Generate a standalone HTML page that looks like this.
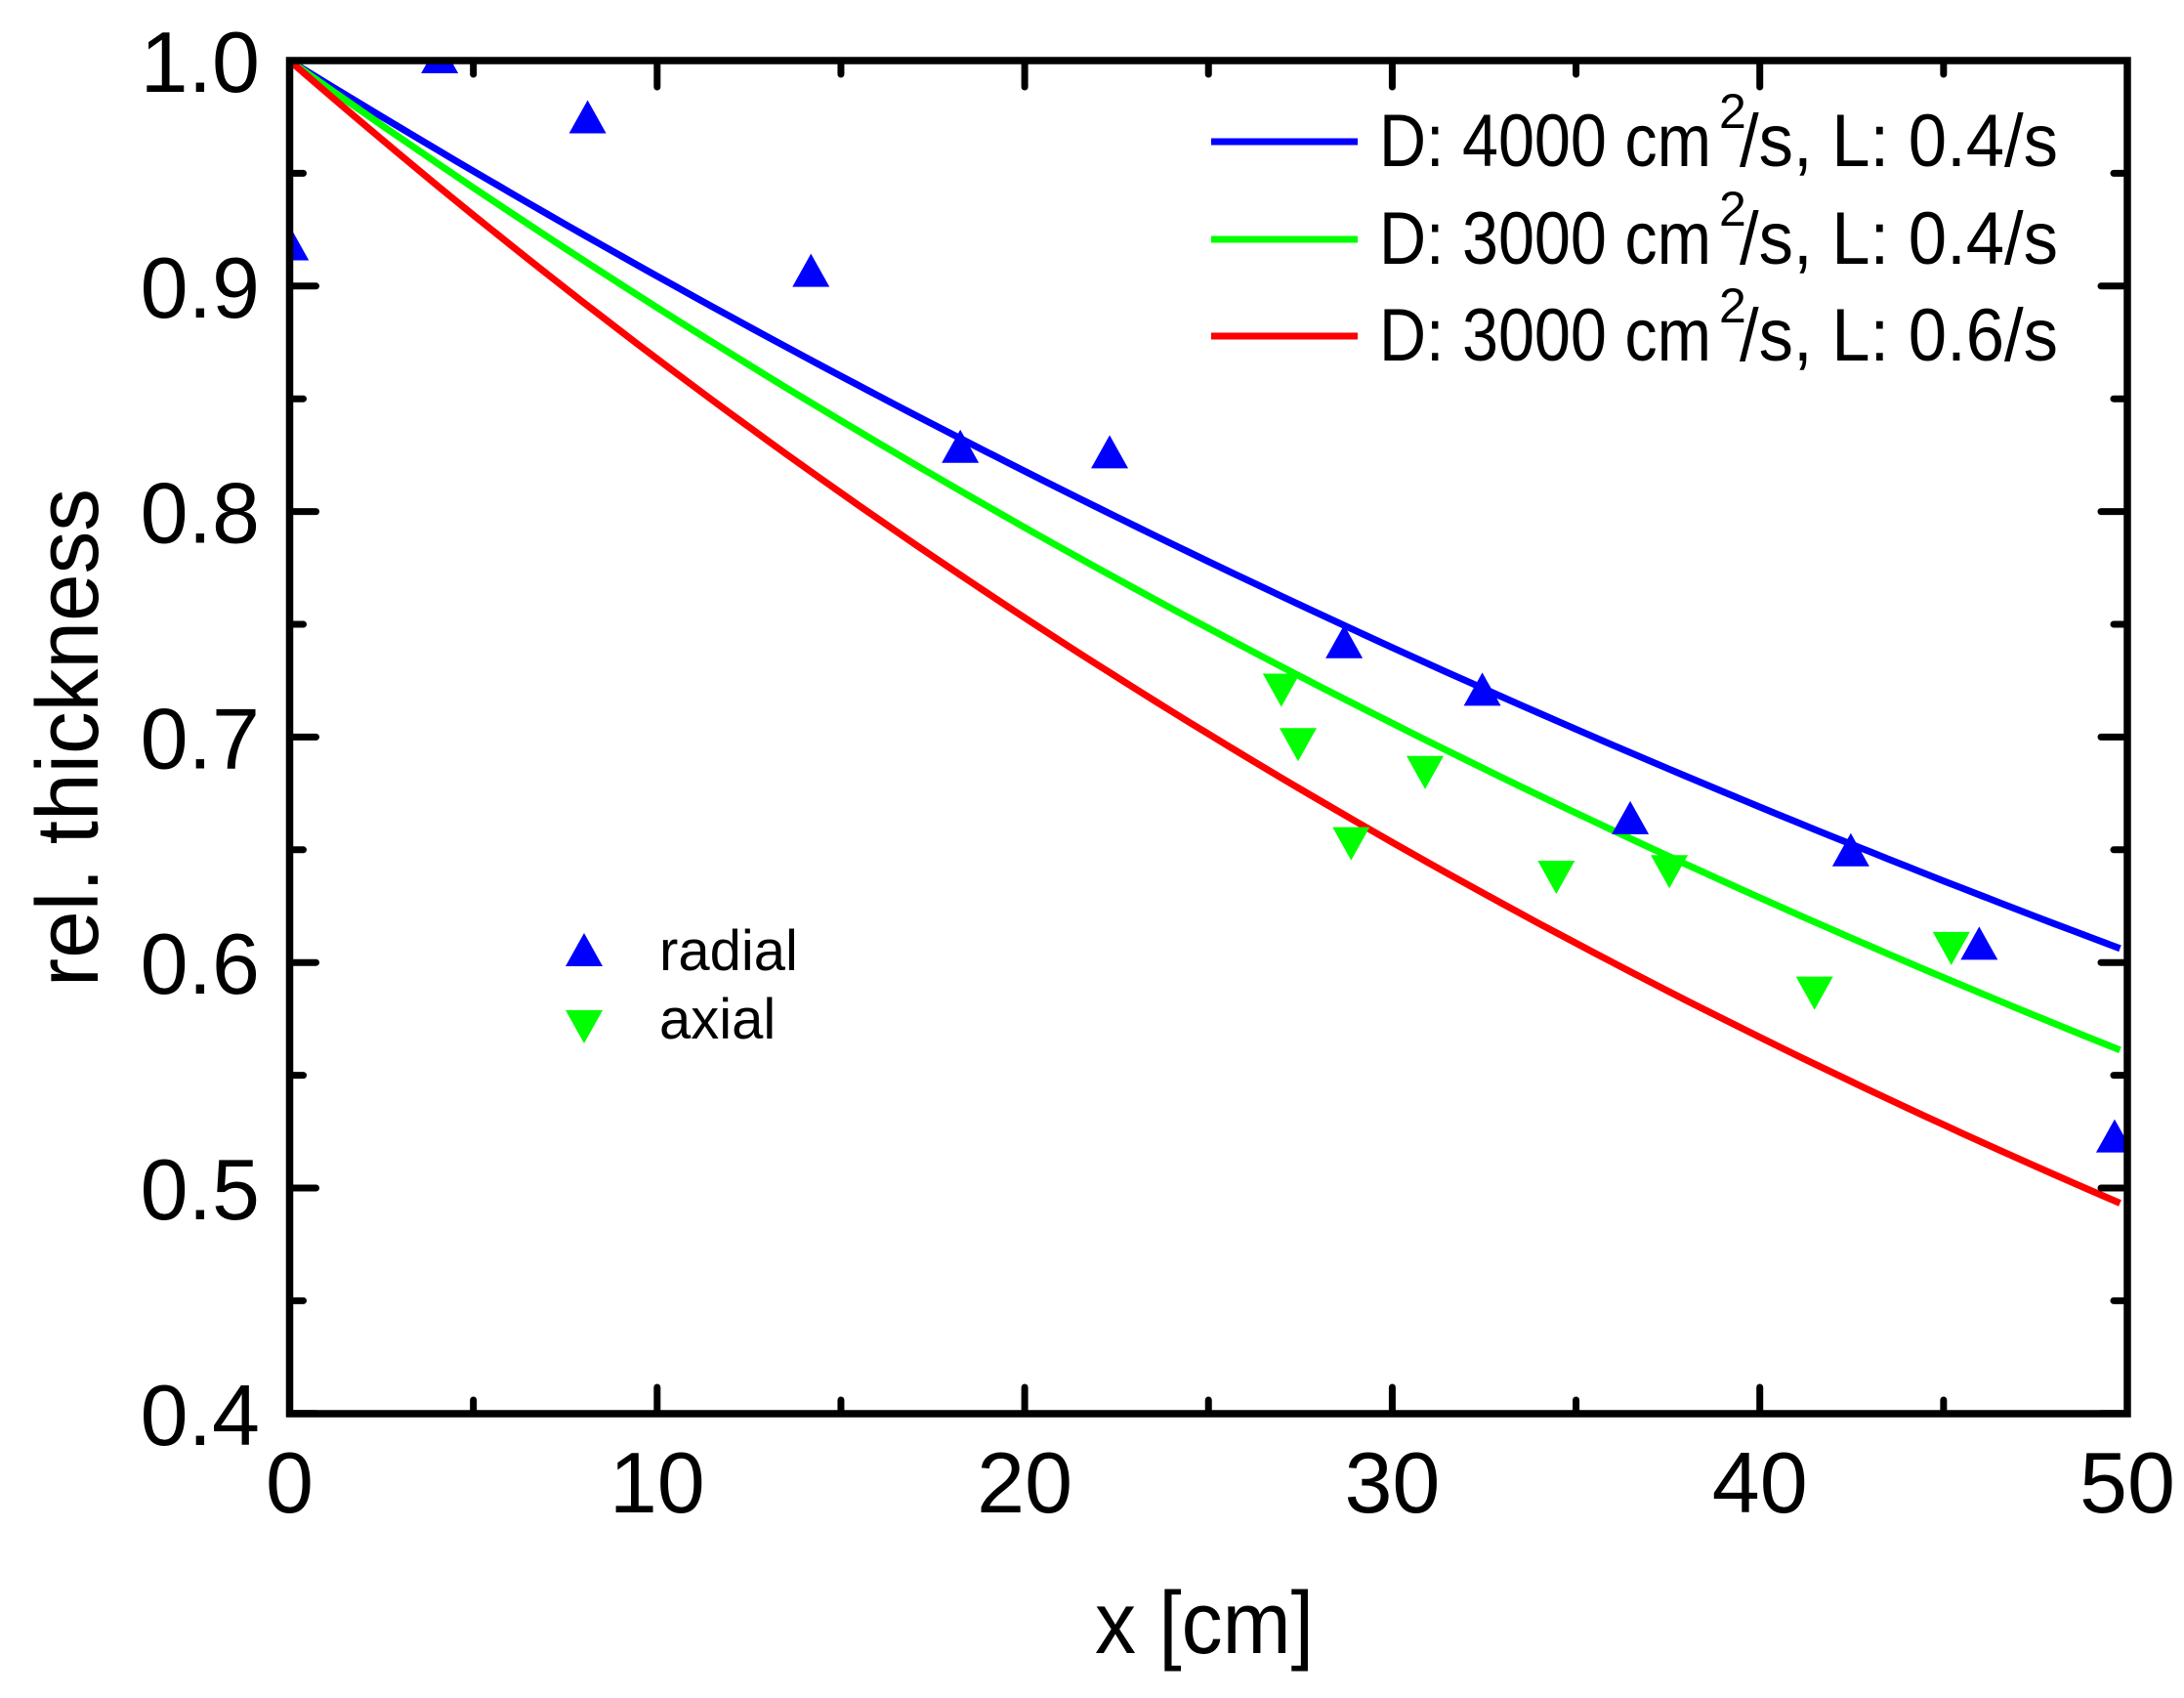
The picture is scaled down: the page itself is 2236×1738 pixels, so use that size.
<!DOCTYPE html>
<html><head><meta charset="utf-8"><style>
html,body{margin:0;padding:0;background:#fff;}
svg{display:block;}
text{font-family:"Liberation Sans",Arial,sans-serif;fill:#000;}
</style></head><body>
<svg id="s" width="2236" height="1738" viewBox="0 0 2236 1738" xmlns="http://www.w3.org/2000/svg">
<defs><clipPath id="c"><rect x="296.5" y="62" width="1881.5" height="1385"/></clipPath></defs>
<g id="curves" clip-path="url(#c)" fill="none" stroke-width="7"></g>
<g id="marks" clip-path="url(#c)"></g>
<rect x="296.5" y="62" width="1881.5" height="1385" fill="none" stroke="#000" stroke-width="7.5"/>
<g id="ticks" stroke="#000" stroke-width="7" stroke-linecap="round"></g>
<g id="labels" font-size="88"></g>
<text x="1121" y="1692" font-size="90" textLength="224" lengthAdjust="spacingAndGlyphs">x [cm]</text>
<text transform="translate(100,1010) rotate(-90)" font-size="90" textLength="510" lengthAdjust="spacingAndGlyphs">rel. thickness</text>
<g stroke-width="7">
<line x1="1240" y1="145" x2="1390" y2="145" stroke="#0000ff"/>
<line x1="1240" y1="245" x2="1390" y2="245" stroke="#00ff00"/>
<line x1="1240" y1="344" x2="1390" y2="344" stroke="#ff0000"/>
</g>
<g font-size="76">
<text x="1412" y="170" textLength="340" lengthAdjust="spacingAndGlyphs">D: 4000 cm</text>
<text x="1760" y="131" font-size="50">2</text>
<text x="1781" y="170" textLength="326" lengthAdjust="spacingAndGlyphs">/s,  L: 0.4/s</text>
<text x="1412" y="270" textLength="340" lengthAdjust="spacingAndGlyphs">D: 3000 cm</text>
<text x="1760" y="231" font-size="50">2</text>
<text x="1781" y="270" textLength="326" lengthAdjust="spacingAndGlyphs">/s,  L: 0.4/s</text>
<text x="1412" y="369" textLength="340" lengthAdjust="spacingAndGlyphs">D: 3000 cm</text>
<text x="1760" y="330" font-size="50">2</text>
<text x="1781" y="369" textLength="326" lengthAdjust="spacingAndGlyphs">/s,  L: 0.6/s</text>
</g>
<polygon points="598,955 617,989 579,989" fill="#0000ff"/>
<polygon points="598,1068 617,1034 579,1034" fill="#00ff00"/>
<text x="675" y="993" font-size="58">radial</text>
<text x="675" y="1063" font-size="58">axial</text>
</svg>
<script>
var NS="http://www.w3.org/2000/svg";
function px(x){return 296.5+37.63*x;}
function py(v){return 62+2308*(1-v);}
function el(t,a,p){var e=document.createElementNS(NS,t);for(var k in a)e.setAttribute(k,a[k]);p.appendChild(e);return e;}
var cg=document.getElementById('curves');
[[0.01005,'#0000ff'],[0.0116,'#00ff00'],[0.01419,'#ff0000']].forEach(function(c){
 var p=[];for(var x=0;x<=49.8;x+=0.5){p.push(px(x).toFixed(1)+','+py(Math.exp(-c[0]*x)).toFixed(1));}
 p.push(px(49.8).toFixed(1)+','+py(Math.exp(-c[0]*49.8)).toFixed(1));
 el('polyline',{points:p.join(' '),stroke:c[1]},cg);
});
var mg=document.getElementById('marks');
var rad=[[208,176],[315,42],[421,85],[581,195],[688,321],[795,325],[963,461],[1062,495],[1168,587],[1326,610],[1418,677],[1515,815]];
var ax=[[918,493],[930,532],[968,603],[1021,552],[1115,627],[1196,623],[1300,710],[1398,678]];
var s=1.429,h=19;
rad.forEach(function(p){var x=p[0]*s,y=p[1]*s;el('polygon',{points:x+','+(y-h)+' '+(x+h)+','+(y+15)+' '+(x-h)+','+(y+15),fill:'#0000ff'},mg);});
ax.forEach(function(p){var x=p[0]*s,y=p[1]*s;el('polygon',{points:x+','+(y+h)+' '+(x+h)+','+(y-15)+' '+(x-h)+','+(y-15),fill:'#00ff00'},mg);});
var tg=document.getElementById('ticks'),lg=document.getElementById('labels');
for(var i=0;i<=10;i++){var x=px(i*5),L=(i%2==0)?27:14;
 el('line',{x1:x,y1:1447,x2:x,y2:1447-L},tg);el('line',{x1:x,y1:62,x2:x,y2:62+L},tg);
 if(i%2==0){var t=el('text',{x:x,y:1548,'text-anchor':'middle'},lg);t.textContent=String(i*5);}}
for(var j=0;j<=12;j++){var v=0.4+j*0.05,y=py(v),L=(j%2==0)?27:14;
 el('line',{x1:296.5,y1:y,x2:296.5+L,y2:y},tg);el('line',{x1:2178,y1:y,x2:2178-L,y2:y},tg);
 if(j%2==0){var t=el('text',{x:266,y:y+32,'text-anchor':'end'},lg);t.textContent=v.toFixed(1);}}
</script>
</body></html>
